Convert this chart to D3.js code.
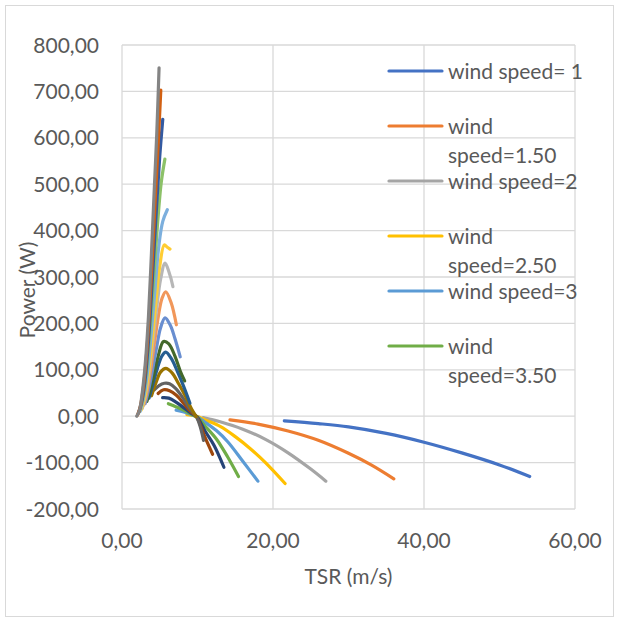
<!DOCTYPE html>
<html lang="en">
<head>
<meta charset="utf-8"/>
<title>Power vs TSR</title>
<script src="https://d3js.org/d3.v7.min.js"></script>
<style>
  body { margin: 0; background: #fff; }
  text { font-family: Lato, "Open Sans", sans-serif; fill: #595959; }
</style>
</head>
<body>
<div id="chart"></div>
<script>
// wind speeds of the series, in drawing order
var windSpeeds = [1, 1.5, 2, 2.5, 3, 3.5, 4, 4.5, 5, 5.5, 6, 6.5, 7, 7.5, 8, 8.5, 9, 9.5, 10, 10.5, 11];
var seriesColors = ['#4472C4', '#ED7D31', '#A5A5A5', '#FFC000', '#5B9BD5', '#70AD47',
                    '#264478', '#9E480E', '#636363', '#997300', '#255E91', '#43682B',
                    '#698ED0', '#F1975A', '#B7B7B7', '#FFCD33', '#7CAFDD', '#8CC168',
                    '#335AA1', '#D26012', '#848484'];

// [TSR, Power]
var ws1    = [[21.5,-10],[26,-16],[30,-23],[35,-37],[40,-56],[45,-79],[50,-105],[54,-130]];
var ws1_5  = [[14.3,-8],[18,-17],[22,-32],[26,-52],[30,-80],[33,-105],[36,-135]];
var ws2    = [[10.75,-3],[13,-12],[16,-28],[19,-50],[22,-79],[25,-114],[27,-140]];
var ws2_5  = [[8.6,3.5],[9.9,0],[11,-8],[13,-22],[15,-44],[17,-70],[19,-100],[21.6,-145]];
var ws3    = [[7.17,13],[8.2,9],[9.1,3.5],[9.9,-1],[11,-13],[12.5,-31],[14,-55],[16,-97],[18,-140]];
var ws3_5  = [[6.14,27],[7.2,20],[8.3,12],[9.2,4],[9.9,-1],[11,-21],[12.5,-49],[14,-88],[15.43,-130]];
var ws4    = [[5.38,40],[6.2,39],[7.2,30],[8.2,18],[9.1,7],[9.9,-1],[11,-32],[12.2,-63],[13.5,-110]];
var ws4_5  = [[4.78,49],[5.5,57],[6.3,55],[7.2,45],[8.2,27],[9.1,10],[9.9,-2],[10.9,-42],[12,-82]];
var ws5    = [[4.3,57],[4.9,66],[5.6,71],[6.3,70],[7.1,60],[8,41],[8.9,18],[9.9,-3],[10.4,-25],[10.8,-52]];
var ws5_5  = [[3.91,44],[4.5,72],[5.1,95],[5.8,103],[6.6,94],[7.5,70],[8.4,43],[9.2,16],[9.82,-1]];
var ws6    = [[3.58,39],[4.1,69],[4.7,104],[5.3,130],[5.8,138],[6.5,125],[7.3,98],[8.1,67],[9,28]];
var ws6_5  = [[3.3,32],[3.8,61],[4.3,95],[4.8,130],[5.5,161],[6.2,156],[7,130],[7.7,98],[8.3,76]];
var ws7    = [[3.07,27],[3.6,62],[4.1,105],[4.6,150],[5.1,190],[5.7,212],[6.4,196],[7,168],[7.71,128]];
var ws7_5  = [[2.87,24],[3.3,52],[3.8,100],[4.3,158],[4.8,214],[5.3,254],[5.8,268],[6.5,245],[7.2,197]];
var ws8    = [[2.69,17],[3.1,45],[3.6,95],[4.1,163],[4.6,233],[5.1,294],[5.7,330],[6.2,312],[6.75,279]];
var ws8_5  = [[2.53,13],[3,40],[3.5,92],[4,167],[4.5,248],[5,323],[5.6,369],[6,364],[6.35,360]];
var ws9    = [[2.39,10],[2.9,42],[3.4,98],[3.9,183],[4.4,279],[4.9,370],[5.4,420],[6,445]];
var ws9_5  = [[2.26,9],[2.7,34],[3.2,91],[3.7,182],[4.2,297],[4.7,413],[5.2,504],[5.68,554]];
var ws10   = [[2.15,6],[2.6,30],[3,70],[3.5,160],[4,290],[4.5,430],[5,560],[5.4,640]];
var ws10_5 = [[2.05,2],[2.4,19],[2.8,58],[3.2,123],[3.6,215],[4,336],[4.4,465],[4.8,588],[5.14,703]];
var ws11   = [[1.95,0],[2.3,12],[2.7,53],[3.1,117],[3.5,213],[3.9,351],[4.3,498],[4.6,607],[4.91,751]];

var seriesPoints = [ws1, ws1_5, ws2, ws2_5, ws3, ws3_5, ws4, ws4_5, ws5, ws5_5, ws6,
                    ws6_5, ws7, ws7_5, ws8, ws8_5, ws9, ws9_5, ws10, ws10_5, ws11];

// only the first six entries fit in the legend box
var legendLabels = [['wind speed= 1'], ['wind', 'speed=1.50'], ['wind speed=2'],
                    ['wind', 'speed=2.50'], ['wind speed=3'], ['wind', 'speed=3.50']];

var xTicks = [0, 20, 40, 60];
var yTicks = [-200, -100, 0, 100, 200, 300, 400, 500, 600, 700, 800];

var width = 619, height = 622;
var svg = d3.select('#chart').append('svg')
  .attr('width', width)
  .attr('height', height);

// chart frame
svg.append('rect')
  .attr('x', 5.5).attr('y', 5.5)
  .attr('width', 608).attr('height', 611)
  .attr('fill', 'none')
  .attr('stroke', '#d9d9d9');

var x = d3.scaleLinear().domain([0, 60]).range([122, 575]);
var y = d3.scaleLinear().domain([-200, 800]).range([509, 45]);

var fmt = d3.formatLocale({ decimal: ',', thousands: '', grouping: [3], currency: ['', ''], minus: '-' }).format('.2f');

// gridlines
var grid = svg.append('g').attr('stroke', '#d9d9d9').attr('stroke-width', 1.3);
grid.selectAll('line.h').data(yTicks).enter().append('line')
  .attr('x1', x(0)).attr('x2', x(60))
  .attr('y1', d => y(d)).attr('y2', d => y(d));
grid.selectAll('line.v').data(xTicks).enter().append('line')
  .attr('y1', y(-200)).attr('y2', y(800))
  .attr('x1', d => x(d)).attr('x2', d => x(d));

// tick labels
svg.selectAll('text.ytick').data(yTicks).enter().append('text')
  .attr('class', 'ytick')
  .attr('x', 99).attr('y', d => y(d) + 7.5)
  .attr('text-anchor', 'end')
  .attr('font-size', 21)
  .text(d => fmt(d));

svg.selectAll('text.xtick').data(xTicks).enter().append('text')
  .attr('class', 'xtick')
  .attr('x', d => x(d)).attr('y', 548)
  .attr('text-anchor', 'middle')
  .attr('font-size', 21)
  .text(d => fmt(d));

// axis titles
svg.append('text')
  .attr('x', (x(0) + x(60)) / 2).attr('y', 584)
  .attr('text-anchor', 'middle')
  .attr('font-size', 21)
  .text('TSR (m/s)');

svg.append('text')
  .attr('transform', 'translate(35,290) rotate(-90)')
  .attr('text-anchor', 'middle')
  .attr('font-size', 21)
  .text('Power (W)');

// series
var line = d3.line()
  .x(d => x(d[0]))
  .y(d => y(d[1]))
  .curve(d3.curveCatmullRom.alpha(0.5));

svg.append('g').selectAll('path').data(seriesPoints).enter().append('path')
  .attr('d', line)
  .attr('fill', 'none')
  .attr('stroke', (d, i) => seriesColors[i])
  .attr('stroke-width', 3.2)
  .attr('stroke-linecap', 'round')
  .attr('stroke-linejoin', 'round');

// legend
var legend = svg.append('g');
var item = legend.selectAll('g').data(legendLabels).enter().append('g')
  .attr('transform', (d, i) => 'translate(0,' + (71 + i * 55) + ')');
item.append('line')
  .attr('x1', 389).attr('x2', 442)
  .attr('y1', 0).attr('y2', 0)
  .attr('stroke', (d, i) => seriesColors[i])
  .attr('stroke-width', 3.2)
  .attr('stroke-linecap', 'round');
item.each(function (lines) {
  var t = d3.select(this).append('text')
    .attr('x', 448).attr('y', 7.5)
    .attr('font-size', 21);
  lines.forEach(function (s, k) {
    t.append('tspan').attr('x', 448).attr('dy', k === 0 ? 0 : 29).text(s);
  });
});
</script>
</body>
</html>
